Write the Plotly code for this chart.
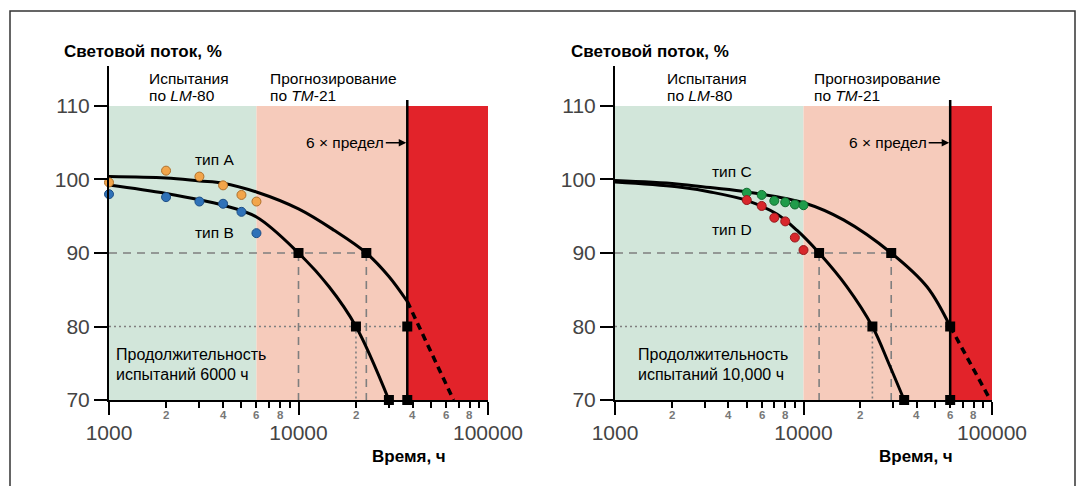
import numpy as np
import plotly.graph_objects as go

W, H = 1078, 486

# ---------------- data ----------------
# Left panel (test duration 6000 h)
test_end_L = 6000
limit_L = 37500          # "6 x предел"
time_A = [1000, 2000, 3000, 4000, 6000, 10000, 15400, 22800, 30000, 37500]
lum_A = [100.4, 100.2, 99.8, 99.5, 98.3, 96.0, 93.1, 90.0, 86.8, 83.4]
time_A_ext = [37500, 65800]
lum_A_ext = [83.4, 70.0]
time_B = [1000, 2000, 4000, 6000, 10000, 14500, 20100, 30000]
lum_B = [99.25, 98.1, 96.5, 94.9, 90.0, 85.4, 80.0, 70.0]
pts_time_L = [1000, 2000, 3000, 4000, 5000, 6000]
pts_A = [99.6, 101.2, 100.4, 99.2, 97.9, 97.0]
pts_B = [98.0, 97.6, 97.0, 96.7, 95.6, 92.7]
L90_L = [10000, 22800]   # times to 90 %
L80_L = [20100, 37500]   # times to 80 %
L70_L = [30000, 37500]   # times to 70 %

# Right panel (test duration 10 000 h)
test_end_R = 10000
limit_R = 60000
time_C = [1000, 2130, 3200, 5070, 10120, 16300, 29200, 45200, 60000]
lum_C = [99.85, 99.4, 98.9, 98.3, 96.8, 94.5, 90.0, 85.4, 80.0]
time_C_ext = [60000, 98000]
lum_C_ext = [80.0, 70.0]
time_D = [1000, 2130, 3200, 5070, 7220, 9220, 12100, 17000, 23200, 28300, 34200]
lum_D = [99.65, 99.0, 98.3, 97.1, 95.3, 93.1, 90.0, 85.4, 80.0, 75.0, 70.0]
pts_time_R = [5000, 6000, 7000, 8000, 9000, 10000]
pts_C = [98.2, 97.9, 97.1, 96.9, 96.6, 96.5]
pts_D = [97.2, 96.4, 94.8, 94.3, 92.1, 90.4]
L90_R = [12100, 29200]
L80_R = [23200, 60000]
L70_R = [34200, 60000]

x_major = [1000, 10000, 100000]
x_major_text = ["1000", "10000", "100000"]
x_minor = [2000, 3000, 4000, 5000, 6000, 7000, 8000, 9000,
           20000, 30000, 40000, 50000, 60000, 70000, 80000, 90000]
x_minor_labeled = [2000, 4000, 6000, 8000, 20000, 40000, 60000, 80000]
x_minor_text = ["2", "4", "6", "8", "2", "4", "6", "8"]
y_ticks = [70, 80, 90, 100, 110]
x_min, x_max = 1000, 100000
y_min, y_top, y_axis_top, limit_top = 70, 110, 115.44, 110.8

# ---------------- styles ----------------
GREEN_BG = "#d2e6da"
PINK_BG = "#f6cbbb"
RED_BG = "#e2232a"
GRID_GRAY = "#7f7f7f"
FONT = "Liberation Sans, Arial, sans-serif"
TICK_COLOR = "#444444"

fig = go.Figure()


def panel(xa, ya, test_end, limit, curves, ext, pts, l90, l80, l70):
    # background regions
    for xs, col in [((x_min, test_end), GREEN_BG), ((test_end, limit), PINK_BG),
                    ((limit, x_max), RED_BG)]:
        fig.add_trace(go.Scatter(
            x=[xs[0], xs[1], xs[1], xs[0], xs[0]],
            y=[y_min, y_min, y_top, y_top, y_min],
            fill="toself", fillcolor=col, mode="lines", line=dict(width=0),
            xaxis=xa, yaxis=ya, hoverinfo="skip"))
    # reference lines at 90 % (dashed) and 80 % (dotted)
    fig.add_trace(go.Scatter(x=[x_min, max(l90)], y=[90, 90], mode="lines",
                             line=dict(color=GRID_GRAY, width=1.6, dash="8px,6px"),
                             xaxis=xa, yaxis=ya, hoverinfo="skip"))
    for t in l90:
        fig.add_trace(go.Scatter(x=[t, t], y=[90, y_min], mode="lines",
                                 line=dict(color=GRID_GRAY, width=1.6, dash="8px,6px"),
                                 xaxis=xa, yaxis=ya, hoverinfo="skip"))
    fig.add_trace(go.Scatter(x=[x_min, max(l80)], y=[80, 80], mode="lines",
                             line=dict(color=GRID_GRAY, width=1.6, dash="2px,3px"),
                             xaxis=xa, yaxis=ya, hoverinfo="skip"))
    fig.add_trace(go.Scatter(x=[l80[0], l80[0]], y=[80, y_min], mode="lines",
                             line=dict(color=GRID_GRAY, width=1.6, dash="2px,3px"),
                             xaxis=xa, yaxis=ya, hoverinfo="skip"))
    # 6 x limit vertical line
    fig.add_trace(go.Scatter(x=[limit, limit], y=[y_min, limit_top], mode="lines",
                             line=dict(color="black", width=2.5), cliponaxis=False,
                             xaxis=xa, yaxis=ya, hoverinfo="skip"))
    # curves
    for tx, ly in curves:
        fig.add_trace(go.Scatter(x=tx, y=ly, mode="lines",
                                 line=dict(color="black", width=3, shape="spline", smoothing=1.0),
                                 xaxis=xa, yaxis=ya, hoverinfo="skip"))
    fig.add_trace(go.Scatter(x=ext[0], y=ext[1], mode="lines",
                             line=dict(color="black", width=3.5, dash="7px,5px"),
                             xaxis=xa, yaxis=ya, hoverinfo="skip"))
    # squares
    sq_x = list(l90) + list(l80) + list(l70)
    sq_y = [90] * len(l90) + [80] * len(l80) + [70] * len(l70)
    fig.add_trace(go.Scatter(x=sq_x, y=sq_y, mode="markers",
                             marker=dict(symbol="square", size=10, color="black"),
                             cliponaxis=False, xaxis=xa, yaxis=ya, hoverinfo="skip"))
    # measurement points
    for tx, ly, fc, lc in pts:
        fig.add_trace(go.Scatter(x=tx, y=ly, mode="markers",
                                 marker=dict(size=9, color=fc, line=dict(color=lc, width=1)),
                                 cliponaxis=False, xaxis=xa, yaxis=ya, hoverinfo="skip"))


panel("x", "y", test_end_L, limit_L,
      [(time_A, lum_A), (time_B, lum_B)], (time_A_ext, lum_A_ext),
      [(pts_time_L, pts_A, "#f2a54a", "#b0702a"), (pts_time_L, pts_B, "#2f72b8", "#1d4f86")],
      L90_L, L80_L, L70_L)
panel("x2", "y2", test_end_R, limit_R,
      [(time_C, lum_C), (time_D, lum_D)], (time_C_ext, lum_C_ext),
      [(pts_time_R, pts_C, "#1f9c4a", "#136b30"), (pts_time_R, pts_D, "#d8262b", "#951a1d")],
      L90_R, L80_R, L70_R)

# tiny pad so that points sitting exactly on 1000 h are not dropped by rounding
X_RANGE = [np.log10(x_min) - 1e-6, np.log10(x_max) + 1e-6]


def xaxis_cfg(domain, anchor):
    return dict(type="log", range=X_RANGE, domain=domain, automargin=False,
                anchor=anchor, showline=True, linecolor="black", linewidth=2,
                ticks="outside", ticklen=13, tickwidth=2, tickcolor="black",
                tickvals=x_major, ticktext=x_major_text,
                tickfont=dict(family=FONT, size=21, color=TICK_COLOR),
                ticklabelstandoff=0,
                showgrid=False, zeroline=False,
                minor=dict(tickvals=x_minor, ticklen=6, tickwidth=1.5,
                           tickcolor="black", ticks="outside", showgrid=False))


def yaxis_cfg(anchor):
    return dict(range=[y_min, y_axis_top], domain=[(H - 400) / H, (H - 66) / H],
                anchor=anchor, showline=True, linecolor="black", linewidth=2,
                automargin=False,
                ticks="outside", ticklen=13, tickwidth=2, tickcolor="black",
                tickvals=y_ticks, tickfont=dict(family=FONT, size=21, color=TICK_COLOR),
                showgrid=False, zeroline=False)


fig.update_layout(
    width=W, height=H, margin=dict(l=0, r=0, t=0, b=0, autoexpand=False),
    paper_bgcolor="white", plot_bgcolor="white", showlegend=False,
    font=dict(family=FONT, color="black"),
    xaxis=xaxis_cfg([109 / W, 488 / W], "y"),
    yaxis=yaxis_cfg("x"),
    xaxis2=xaxis_cfg([615 / W, 992 / W], "y2"),
    yaxis2=yaxis_cfg("x2"),
)


def px(x):
    return x / W


def py(y):
    return 1 - y / H


ann = []


def text(x, y, s, size=15.5, bold=False, xanchor="left", color="black"):
    if bold:
        s = "<b>" + s + "</b>"
    ann.append(dict(x=px(x), y=py(y), xref="paper", yref="paper", text=s, showarrow=False,
                    xanchor=xanchor, yanchor="middle",
                    font=dict(family=FONT, size=size, color=color)))


for off, dur_txt, typ1, typ2, xa, lim, t1y, t2y, tx in [
        (0, "испытаний 6000 ч", "тип А", "тип В", "x", limit_L, 159, 232, 214),
        (506, "испытаний 10,000 ч", "тип C", "тип D", "x2", limit_R, 171, 229, 732)]:
    x0 = 62 + (507 if off else 0)
    text(x0, 51, "Световой поток, %", size=17, bold=True)
    base = 147 if not off else 665
    text(base, 78, "Испытания")
    text(base, 95, "по <i>LM</i>-80")
    base2 = 268 if not off else 812
    text(base2, 78, "Прогнозирование")
    text(base2, 95, "по <i>TM</i>-21")
    text(tx, t1y, typ1, xanchor="center")
    text(tx, t2y, typ2, xanchor="center")
    base3 = 114 if not off else 636
    text(base3, 354.5, "Продолжительность", size=16)
    text(base3, 374, dur_txt, size=16)
    text(370 if not off else 877, 456, "Время, ч", size=17, bold=True)
    # 6 x limit arrow
    ann.append(dict(x=np.log10(lim), y=105, xref=xa, yref="y" if xa == "x" else "y2",
                    text="6 × предел", showarrow=True, arrowhead=2, arrowsize=1,
                    arrowwidth=1.5, arrowcolor="black", standoff=1, ax=-62, ay=0,
                    font=dict(family=FONT, size=15.5, color="black")))
    # minor tick labels
    for v, t in zip(x_minor_labeled, x_minor_text):
        ann.append(dict(x=np.log10(v), y=0, xref=xa, yref=("y" if xa == "x" else "y2") + " domain",
                        text="<b>" + t + "</b>", showarrow=False, xanchor="center",
                        yanchor="middle", yshift=-15,
                        font=dict(family=FONT, size=11.5, color="#777777")))

fig.update_layout(annotations=ann)

# outer frame
fig.add_shape(type="rect", xref="paper", yref="paper", x0=px(10), x1=px(1075),
              y0=py(492), y1=py(11), line=dict(color="#333333", width=1.5),
              fillcolor="rgba(0,0,0,0)", layer="above")

fig.write_html("out.html")
